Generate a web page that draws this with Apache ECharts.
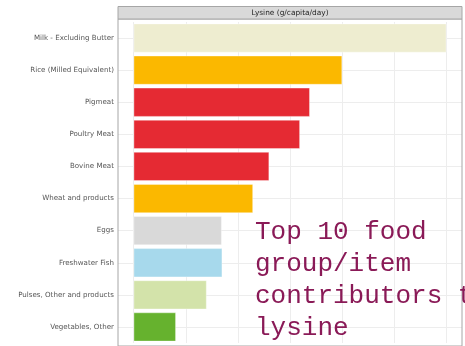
<!DOCTYPE html>
<html>
<head>
<meta charset="utf-8">
<script src="https://cdn.jsdelivr.net/npm/echarts@6/dist/echarts.min.js"></script>
<style>
  html, body { margin: 0; padding: 0; background: #ffffff; }
  #chart { width: 465px; height: 346px; }
</style>
</head>
<body>
<div id="chart"></div>
<script>
// Lysine supply by food group/item, g/capita/day
const categories = [
  'Milk - Excluding Butter',
  'Rice (Milled Equivalent)',
  'Pigmeat',
  'Poultry Meat',
  'Bovine Meat',
  'Wheat and products',
  'Eggs',
  'Freshwater Fish',
  'Pulses, Other and products',
  'Vegetables, Other'
];
const lysine = [0.600, 0.400, 0.338, 0.319, 0.260, 0.229, 0.169, 0.170, 0.140, 0.081];
const barColors = [
  '#eeedd0', '#fbb800', '#e52a33', '#e52a33', '#e52a33',
  '#fbb800', '#d9d9d9', '#a7d9ec', '#d3e3aa', '#66b22e'
];
const gridBreaks = [0, 0.1, 0.2, 0.3, 0.4, 0.5, 0.6];
const stripTitle = 'Lysine (g/capita/day)';
const overlayLines = ['Top 10 food', 'group/item', 'contributors to', 'lysine'];

const chart = echarts.init(document.getElementById('chart'));

const xMax = Math.max(...lysine);
const pad = xMax * 0.05;

// panel frame (the plotting grid sits inside it, leaving room above the first and below the last bar)
const panel = { x: 118, y: 19, w: 344, h: 327 };

// panel grid lines: vertical at the breaks, horizontal through each category
const gridMarks = gridBreaks.map(v => ({ xAxis: v }))
  .concat(categories.map(c => ({ yAxis: c })));

chart.setOption({
  animation: false,
  backgroundColor: '#ffffff',
  grid: {
    left: panel.x, right: 465 - panel.x - panel.w, top: 22, bottom: 3,
    show: false
  },
  xAxis: {
    type: 'value', min: -pad, max: xMax + pad,
    axisLabel: { show: false }, axisTick: { show: false },
    axisLine: { show: false }, splitLine: { show: false }
  },
  yAxis: {
    type: 'category', data: categories, inverse: true,
    axisLine: { show: false },
    axisTick: { show: true, alignWithLabel: true, length: 3, lineStyle: { color: '#555555' } },
    axisLabel: { color: '#555555', fontFamily: 'DejaVu Sans', fontSize: 7.1, margin: 4 },
    splitLine: { show: false }
  },
  series: [
    {
      type: 'scatter', data: [], silent: true, z: 1,
      markLine: {
        silent: true, symbol: 'none', z: 1,
        label: { show: false },
        lineStyle: { color: '#ededed', width: 1, type: 'solid' },
        emphasis: { disabled: true },
        data: gridMarks
      }
    },
    {
      type: 'bar', z: 3,
      barCategoryGap: '10%',
      data: lysine.map((v, i) => ({
        value: v,
        itemStyle: { color: barColors[i], borderColor: 'rgba(255,255,255,0.6)', borderWidth: 0.6 }
      }))
    }
  ],
  graphic: [
    {
      type: 'rect', z: 9,
      shape: { x: panel.x, y: panel.y, width: panel.w, height: panel.h },
      style: { fill: 'none', stroke: '#a6a6a6', lineWidth: 1 }
    },
    {
      type: 'rect', z: 10,
      shape: { x: panel.x, y: 6.5, width: panel.w, height: 12.5 },
      style: { fill: '#d9d9d9', stroke: '#a6a6a6', lineWidth: 1 }
    },
    {
      type: 'text', z: 11, x: panel.x + panel.w / 2, y: 13,
      style: {
        text: stripTitle, fill: '#1f1f1f', fontFamily: 'DejaVu Sans', fontSize: 7.4,
        align: 'center', verticalAlign: 'middle'
      }
    },
    {
      type: 'text', z: 20, x: 255, y: 216,
      style: {
        text: overlayLines.join('\n'), fill: '#8a1a57',
        fontFamily: 'Liberation Mono', fontSize: 26, lineHeight: 32,
        align: 'left', verticalAlign: 'top'
      }
    }
  ]
});
</script>
</body>
</html>
